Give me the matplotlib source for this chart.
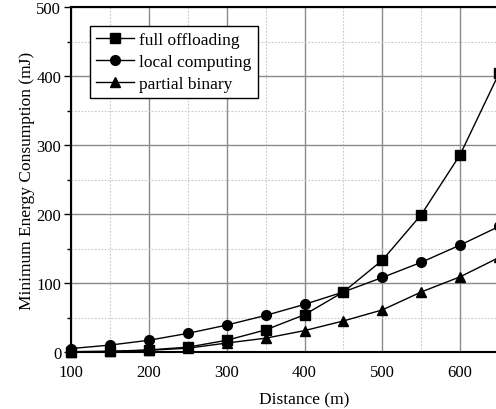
import matplotlib
matplotlib.use("Agg")
import matplotlib.pyplot as plt
from matplotlib.ticker import MultipleLocator, FixedLocator

distance = [100, 150, 200, 250, 300, 350, 400, 450, 500, 550, 600, 650]
full_offloading = [0.5, 1, 3, 7, 17, 32, 54, 87, 133, 199, 286, 404]
local_computing = [5, 10, 17, 27, 39, 53, 69, 87, 108, 130, 155, 182]
partial_binary = [0.3, 0.8, 2.5, 5.5, 13, 20, 31, 45, 61, 87, 109, 137]
x_ticks = [100, 200, 300, 400, 500, 600]

plt.rcParams['font.family'] = ['Liberation Serif', 'DejaVu Serif']

W, H = 496, 410
fig = plt.figure(figsize=(W / 100, H / 100), dpi=100)
left, right, top, bottom = 71, 538, 8, 353
ax = fig.add_axes([left / W, 1 - bottom / H, (right - left) / W, (bottom - top) / H])

ax.plot(distance, full_offloading, color='black', lw=1, marker='s', ms=6.5, label='full offloading', clip_on=False, zorder=5)
ax.plot(distance, local_computing, color='black', lw=1, marker='o', ms=7, label='local computing', clip_on=False, zorder=5)
ax.plot(distance, partial_binary, color='black', lw=1, marker='^', ms=7.5, label='partial binary', clip_on=False, zorder=5)

ax.set_xlim(100, 700)
ax.set_ylim(0, 500)
ax.xaxis.set_major_locator(FixedLocator(x_ticks))
ax.xaxis.set_minor_locator(MultipleLocator(50))
ax.yaxis.set_major_locator(MultipleLocator(100))
ax.yaxis.set_minor_locator(MultipleLocator(50))

ax.grid(which='major', color='#8a8a8a', lw=1.0, ls='-')
ax.grid(which='minor', color='#c8c8c8', lw=0.8, ls=(0, (1.5, 1.5)))
ax.set_axisbelow(True)

ax.tick_params(axis='y', which='major', direction='out', length=5, width=1, labelsize=12, pad=2)
ax.tick_params(axis='y', which='minor', direction='out', length=3, width=1)
ax.tick_params(axis='x', which='both', length=0, labelsize=12, pad=9)

for s in ['left', 'top', 'bottom']:
    ax.spines[s].set_linewidth(1.5)
    ax.spines[s].set_color('black')

ax.set_xlabel('Distance (m)', fontsize=12.5, labelpad=8)
ax.set_ylabel('Minimum Energy Consumption (mJ)', fontsize=12.5, labelpad=1)

leg = ax.legend(loc='upper left', bbox_to_anchor=((90 - left) / (right - left), 1 - (27 - top) / (bottom - top)),
                fontsize=12.5, frameon=True, fancybox=False, edgecolor='black', framealpha=1,
                handlelength=2.2, handletextpad=0.3, borderpad=0.35, labelspacing=0.32, borderaxespad=0)
leg.get_frame().set_linewidth(1.0)

fig.savefig('out.png', dpi=100)
